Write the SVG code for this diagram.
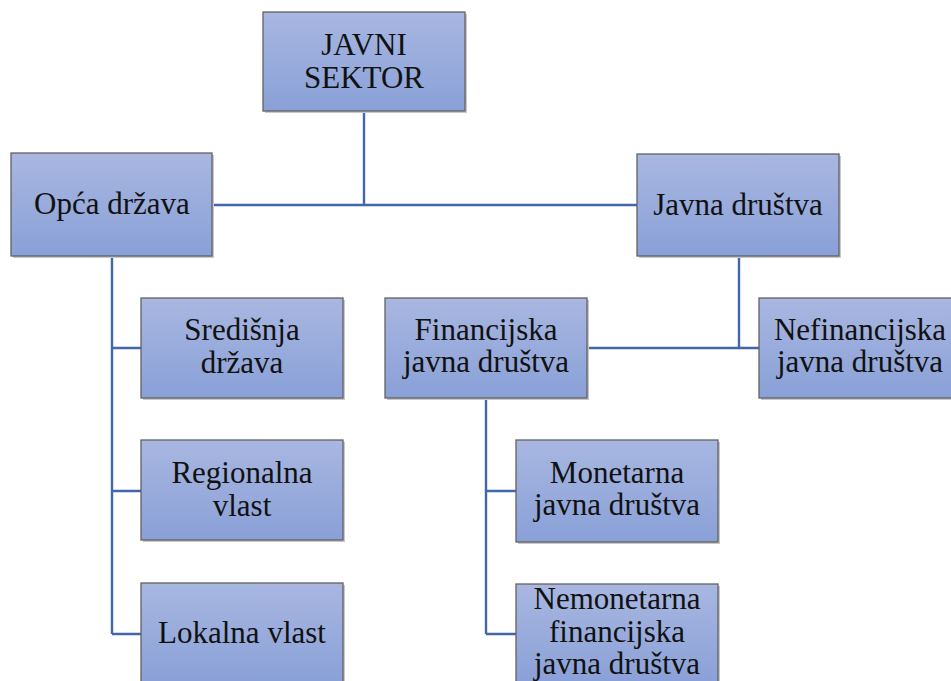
<svg xmlns="http://www.w3.org/2000/svg" width="951" height="681" viewBox="0 0 951 681">
<style>
.box{fill:url(#g);stroke:#626262;stroke-width:1.3}
.sh{fill:#c8c8c8}
.t{font-family:'Liberation Serif',Tinos,'Times New Roman',Times,'DejaVu Serif',serif;font-size:31px;fill:#111;text-anchor:middle}
.c{fill:none;stroke:#4167aa;stroke-width:2.4}
</style>
<defs>
<linearGradient id="g" x1="0" y1="0" x2="0" y2="1">
<stop offset="0" stop-color="#a9b7e1"/>
<stop offset="1" stop-color="#89a0d7"/>
</linearGradient>
</defs>
<rect width="951" height="681" fill="#fff"/>
<g id="connectors">
<path class="c" d="M364 111V205M212 205H638"/>
<path class="c" d="M112 256V634M112 348H141M112 491H141M112 634H141"/>
<path class="c" d="M739 256V348M587 348H759"/>
<path class="c" d="M486 398V634M486 491H516M486 634H516"/>
</g>
<g id="javni-sektor">
<rect class="sh" x="265" y="14" width="202" height="99"/>
<rect class="box" x="263" y="12" width="202" height="99"/>
<text class="t" x="364" y="55">JAVNI</text>
<text class="t" x="364" y="88">SEKTOR</text>
</g>
<g id="opca-drzava">
<rect class="sh" x="13" y="155" width="201" height="103"/>
<rect class="box" x="11" y="153" width="201" height="103"/>
<text class="t" x="112" y="214">Opća država</text>
</g>
<g id="javna-drustva">
<rect class="sh" x="639" y="156" width="202" height="102"/>
<rect class="box" x="637" y="154" width="202" height="102"/>
<text class="t" x="738" y="215">Javna društva</text>
</g>
<g id="sredisnja-drzava">
<rect class="sh" x="143" y="300" width="202" height="100"/>
<rect class="box" x="141" y="298" width="202" height="100"/>
<text class="t" x="242" y="340">Središnja</text>
<text class="t" x="242" y="373">država</text>
</g>
<g id="regionalna-vlast">
<rect class="sh" x="143" y="442" width="202" height="100"/>
<rect class="box" x="141" y="440" width="202" height="100"/>
<text class="t" x="242" y="483">Regionalna</text>
<text class="t" x="242" y="516">vlast</text>
</g>
<g id="lokalna-vlast">
<rect class="sh" x="143" y="585" width="202" height="100"/>
<rect class="box" x="141" y="583" width="202" height="100"/>
<text class="t" x="242" y="643">Lokalna vlast</text>
</g>
<g id="financijska-javna-drustva">
<rect class="sh" x="387" y="300" width="202" height="100"/>
<rect class="box" x="385" y="298" width="202" height="100"/>
<text class="t" x="486" y="340">Financijska</text>
<text class="t" x="486" y="372">javna društva</text>
</g>
<g id="nefinancijska-javna-drustva">
<rect class="sh" x="761" y="300" width="202" height="100"/>
<rect class="box" x="759" y="298" width="202" height="100"/>
<text class="t" x="860" y="340">Nefinancijska</text>
<text class="t" x="860" y="372">javna društva</text>
</g>
<g id="monetarna-javna-drustva">
<rect class="sh" x="518" y="442" width="202" height="102"/>
<rect class="box" x="516" y="440" width="202" height="102"/>
<text class="t" x="617" y="483">Monetarna</text>
<text class="t" x="617" y="515">javna društva</text>
</g>
<g id="nemonetarna-financijska-javna-drustva">
<rect class="sh" x="518" y="586" width="202" height="100"/>
<rect class="box" x="516" y="584" width="202" height="100"/>
<text class="t" x="617" y="609">Nemonetarna</text>
<text class="t" x="617" y="642">financijska</text>
<text class="t" x="617" y="674">javna društva</text>
</g>
</svg>
